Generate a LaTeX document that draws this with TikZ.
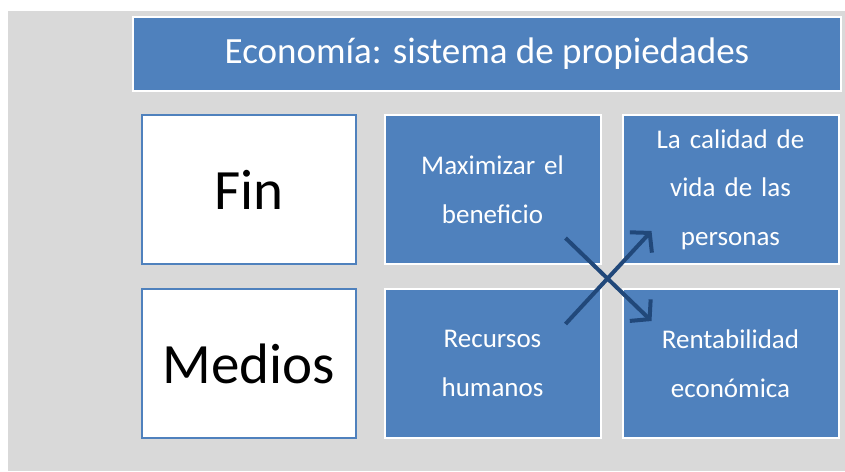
\documentclass[tikz,border=0pt]{standalone}
\usepackage{fontspec}
\setmainfont{Carlito}
\usetikzlibrary{arrows.meta}
\definecolor{boxblue}{RGB}{79,129,189}
\definecolor{linkblue}{RGB}{33,72,122}
\definecolor{backgray}{RGB}{217,217,217}
\tikzstyle{title} = [rectangle, minimum width=708pt, minimum height=74pt, inner sep=0pt, draw=white, line width=2pt, fill=boxblue, text=white, font=\fontsize{37}{40}\selectfont]
\tikzstyle{label} = [rectangle, minimum width=214pt, minimum height=149pt, inner sep=0pt, draw=boxblue, line width=2pt, fill=white, text=black, font=\fontsize{57}{60}\selectfont]
\tikzstyle{item} = [rectangle, minimum width=216pt, minimum height=149pt, inner sep=0pt, text width=210pt, align=center, draw=white, line width=2pt, fill=boxblue, text=white, font=\fontsize{27}{48.5}\selectfont]
\tikzstyle{arrow} = [line width=4pt, draw=linkblue, -{Straight Barb[length=13pt, width=30pt, line width=4pt]}]

\begin{document}
\begin{tikzpicture}[x=1pt, y=-1pt]

%% BACKGROUND

\useasboundingbox [fill=white] (0,0) rectangle (845,471);
\fill [backgray] (8,11) rectangle (845,471);

%% NODES

\node (head) [title] at (487,54) {Economía: sistema de propiedades};
\node (fin) [label] at (249,189.5) {Fin};
\node (medios) [label, below of=fin, node distance=174pt] {Medios};
\node (max) [item, right of=fin, node distance=243.5pt] {Maximizar el\\beneficio};
\node (calidad) [item, right of=max, node distance=238pt] {La calidad de\\vida de las\\personas};
\node (recursos) [item, below of=max, node distance=174pt] {Recursos\\humanos};
\node (rent) [item, below of=calidad, node distance=174pt] {Rentabilidad\\económica};

%% ARROWS

\draw [arrow] ([shift={(-36,-27)}]max.south east) -- ([shift={(30,33)}]rent.north west);
\draw [arrow] ([shift={(-36,36)}]recursos.north east) -- ([shift={(30,-34)}]calidad.south west);

\end{tikzpicture}
\end{document}
